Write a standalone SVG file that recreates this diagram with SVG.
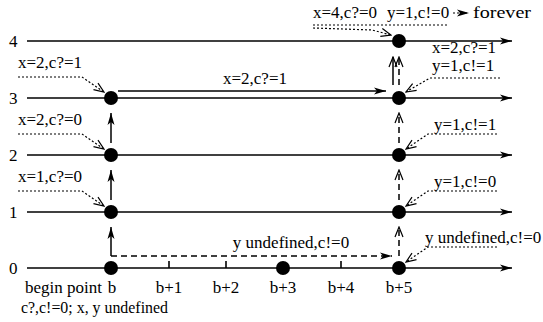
<svg xmlns="http://www.w3.org/2000/svg" width="543" height="322" viewBox="0 0 543 322">
<defs>
<marker id="ah" viewBox="0 0 12 8" refX="12" refY="4" markerWidth="12" markerHeight="8" markerUnits="userSpaceOnUse" orient="auto">
<path d="M0,0.5 L12,4 L0,7.5 L3,4 Z" fill="#000"/>
</marker>
<marker id="ao" viewBox="0 0 12 10" refX="11" refY="5" markerWidth="12" markerHeight="10" markerUnits="userSpaceOnUse" orient="auto">
<path d="M1,1 L11,5 L1,9" fill="none" stroke="#000" stroke-width="1.2"/>
</marker>
</defs>
<style>
text{font-family:"Liberation Serif","Times New Roman",serif;font-size:17px;fill:#000}
.m{text-anchor:middle}
.axis{stroke:#000;stroke-width:1.6;fill:none}
.sol{stroke:#000;stroke-width:1.5;fill:none}
.dsh{stroke:#000;stroke-width:1.5;fill:none;stroke-dasharray:6,4}
.dot{stroke:#000;stroke-width:1.2;fill:none;stroke-dasharray:2,2}
.node{fill:#000}
</style>
<g id="axes">
<line class="axis" x1="27" y1="41" x2="512" y2="41" marker-end="url(#ah)"/>
<line class="axis" x1="27" y1="98" x2="512" y2="98" marker-end="url(#ah)"/>
<line class="axis" x1="27" y1="155" x2="512" y2="155" marker-end="url(#ah)"/>
<line class="axis" x1="27" y1="212" x2="512" y2="212" marker-end="url(#ah)"/>
<line class="axis" x1="27" y1="268" x2="512" y2="268" marker-end="url(#ah)"/>
<line class="axis" x1="169" y1="261" x2="169" y2="268"/>
<line class="axis" x1="226" y1="261" x2="226" y2="268"/>
<line class="axis" x1="341" y1="261" x2="341" y2="268"/>
<text x="9" y="47">4</text>
<text x="9" y="104">3</text>
<text x="9" y="161">2</text>
<text x="9" y="218">1</text>
<text x="9" y="274">0</text>
<text x="25" y="293">begin point</text>
<text class="m" x="112" y="293">b</text>
<text class="m" x="169" y="293">b+1</text>
<text class="m" x="226" y="293">b+2</text>
<text class="m" x="283" y="293">b+3</text>
<text class="m" x="341" y="293">b+4</text>
<text class="m" x="399" y="293">b+5</text>
<text x="21" y="313" textLength="147" lengthAdjust="spacingAndGlyphs">c?,c!=0; x, y undefined</text>
</g>
<g id="connectors">
<line class="sol" x1="111" y1="256" x2="111" y2="227" marker-end="url(#ah)"/>
<line class="sol" x1="111" y1="200" x2="111" y2="170" marker-end="url(#ah)"/>
<line class="sol" x1="111" y1="143" x2="111" y2="113" marker-end="url(#ah)"/>
<line class="dsh" x1="111" y1="256" x2="392" y2="256" marker-end="url(#ah)"/>
<line class="sol" x1="118" y1="91" x2="386" y2="91" marker-end="url(#ah)"/>
<line class="dsh" x1="399" y1="256" x2="399" y2="227" marker-end="url(#ao)"/>
<line class="dsh" x1="399" y1="200" x2="399" y2="170" marker-end="url(#ao)"/>
<line class="dsh" x1="399" y1="143" x2="399" y2="113" marker-end="url(#ao)"/>
<line class="sol" x1="393" y1="85" x2="393" y2="57" marker-end="url(#ao)"/>
<line class="dsh" x1="399" y1="85" x2="399" y2="57" marker-end="url(#ao)"/>
<path class="dot" d="M18,77 L82,77 L104,92" marker-end="url(#ao)"/>
<path class="dot" d="M18,134 L82,134 L104,149" marker-end="url(#ao)"/>
<path class="dot" d="M18,191 L82,191 L104,206" marker-end="url(#ao)"/>
<path class="dot" d="M500,78 L430,78 L406,92" marker-end="url(#ao)"/>
<path class="dot" d="M497,134 L428,134 L406,149" marker-end="url(#ao)"/>
<path class="dot" d="M497,191 L428,191 L406,206" marker-end="url(#ao)"/>
<path class="dot" d="M497,247 L428,247 L406,262" marker-end="url(#ao)"/>
<path class="dot" d="M313,25 L448,25"/>
<path class="dot" d="M313,28 L372,30 L391,35" marker-end="url(#ao)"/>
<path class="dot" d="M453,13 L469,13" marker-end="url(#ah)"/>
</g>
<g id="labels">
<text class="m" x="255" y="84">x=2,c?=1</text>
<text class="m" x="291" y="248">y undefined,c!=0</text>
<text x="18" y="68">x=2,c?=1</text>
<text x="18" y="125">x=2,c?=0</text>
<text x="18" y="182">x=1,c?=0</text>
<text x="432" y="53">x=2,c?=1</text>
<text x="432" y="71">y=1,c!=1</text>
<text x="434" y="130">y=1,c!=1</text>
<text x="434" y="187">y=1,c!=0</text>
<text x="425" y="243">y undefined,c!=0</text>
<text x="313" y="18">x=4,c?=0</text>
<text x="387" y="18">y=1,c!=0</text>
<text x="473" y="18" textLength="58" lengthAdjust="spacingAndGlyphs">forever</text>
</g>
<g id="n_b0"><circle class="node" cx="111" cy="268" r="7"/></g>
<g id="n_b1"><circle class="node" cx="111" cy="212" r="7"/></g>
<g id="n_b2"><circle class="node" cx="111" cy="155" r="7"/></g>
<g id="n_b3"><circle class="node" cx="111" cy="98" r="7"/></g>
<g id="n_b3_0"><circle class="node" cx="283" cy="268" r="7"/></g>
<g id="n_b5_0"><circle class="node" cx="399" cy="268" r="7"/></g>
<g id="n_b5_1"><circle class="node" cx="399" cy="212" r="7"/></g>
<g id="n_b5_2"><circle class="node" cx="399" cy="155" r="7"/></g>
<g id="n_b5_3"><circle class="node" cx="399" cy="98" r="7"/></g>
<g id="n_b5_4"><circle class="node" cx="399" cy="41" r="7"/></g>
</svg>
